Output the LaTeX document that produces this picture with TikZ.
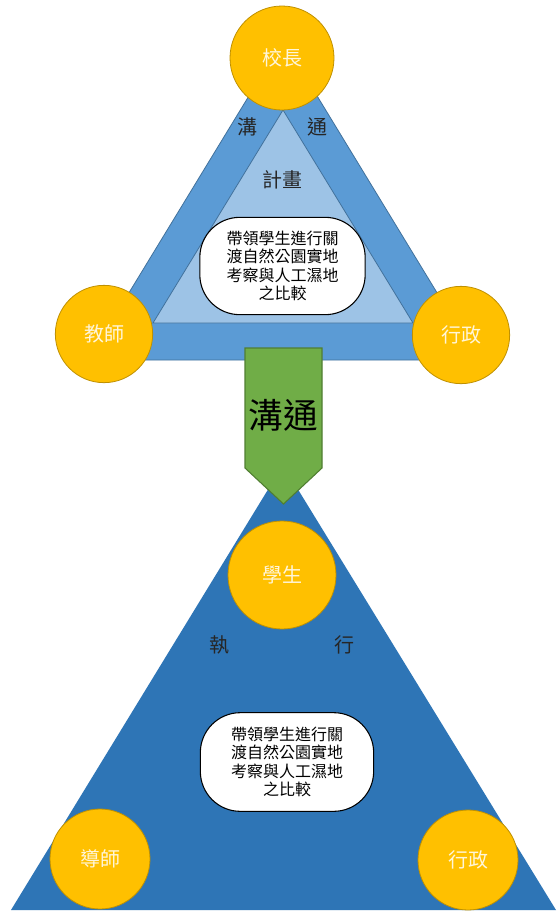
\documentclass[tikz,border=0pt]{standalone}
\usepackage{fontspec}
\setmainfont{Noto Sans CJK TC}
\usepackage{tikz}
\definecolor{bandblue}{HTML}{5B9BD5}
\definecolor{paleblue}{HTML}{9DC3E6}
\definecolor{edgeblue}{HTML}{41719C}
\definecolor{deepblue}{HTML}{2E75B6}
\definecolor{gold}{HTML}{FFC000}
\definecolor{goldedge}{HTML}{BF9000}
\definecolor{leaf}{HTML}{70AD47}
\definecolor{leafedge}{HTML}{507E32}
\definecolor{paletext}{HTML}{FFF6DA}
\def\drawband{\draw[fill=bandblue, draw=edgeblue, line width=0.6pt]}
\def\drawinner{\draw[fill=paleblue, draw=edgeblue, line width=0.6pt]}
\def\rolenode{\node[circle,draw=goldedge,fill=gold,line width=0.6pt,inner sep=0pt,text=paletext,font=\fontsize{15}{18}\selectfont]}
\def\goalnode{\node[rectangle,rounded corners=30pt,draw=black,fill=white,line width=0.8pt,align=center,minimum width=124pt,minimum height=73pt,inner sep=0pt,font=\fontsize{12}{13.9}\selectfont]}

\begin{document}
\begin{tikzpicture}[x=0.75pt,y=-0.75pt,
  tag/.style={text=black!85,font=\fontsize{15}{18}\selectfont}]
\useasboundingbox[fill=white] (0,0) rectangle (557,921);
% planning triangle
\drawband (283,40) -- (88,360) -- (478,360) -- cycle;
\drawinner (283,110) -- (153,323) -- (413,323) -- cycle;
\node[tag] (talkl) at (247,127) {溝};
\node[tag] (talkr) at (317,127) {通};
\node[tag] (plan) at (282,180) {計畫};
\goalnode (plangoal) at (282.5,266) {帶領學生進行關\\渡自然公園實地\\考察與人工濕地\\之比較};
% execution triangle
\fill[deepblue] (283,465) -- (11,910) -- (556,910) -- cycle;
\node[tag] (doleft) at (219,645) {執};
\node[tag] (doright) at (344,645) {行};
\goalnode[minimum width=130pt,minimum height=74pt] (dogoal) at (287,762) {帶領學生進行關\\渡自然公園實地\\考察與人工濕地\\之比較};
% roles
\rolenode[minimum size=78pt] (principal) at (282,58) {校長};
\rolenode[minimum size=73pt] (teacher) at (104,334) {教師};
\rolenode[minimum size=73pt] (office) at (461,335) {行政};
\rolenode[minimum size=81pt] (student) at (282,575) {學生};
\rolenode[minimum size=75pt] (tutor) at (100,859) {導師};
\rolenode[minimum size=75pt] (office2) at (468,860) {行政};
% arrow between
\draw[fill=leaf, draw=leafedge, line width=0.8pt] (245,348) -- (322,348) -- (322,468) -- (283.5,504) -- (245,468) -- cycle;
\node[font=\fontsize{26}{30}\selectfont] (talk) at (283.5,415) {溝通};
\end{tikzpicture}
\end{document}
